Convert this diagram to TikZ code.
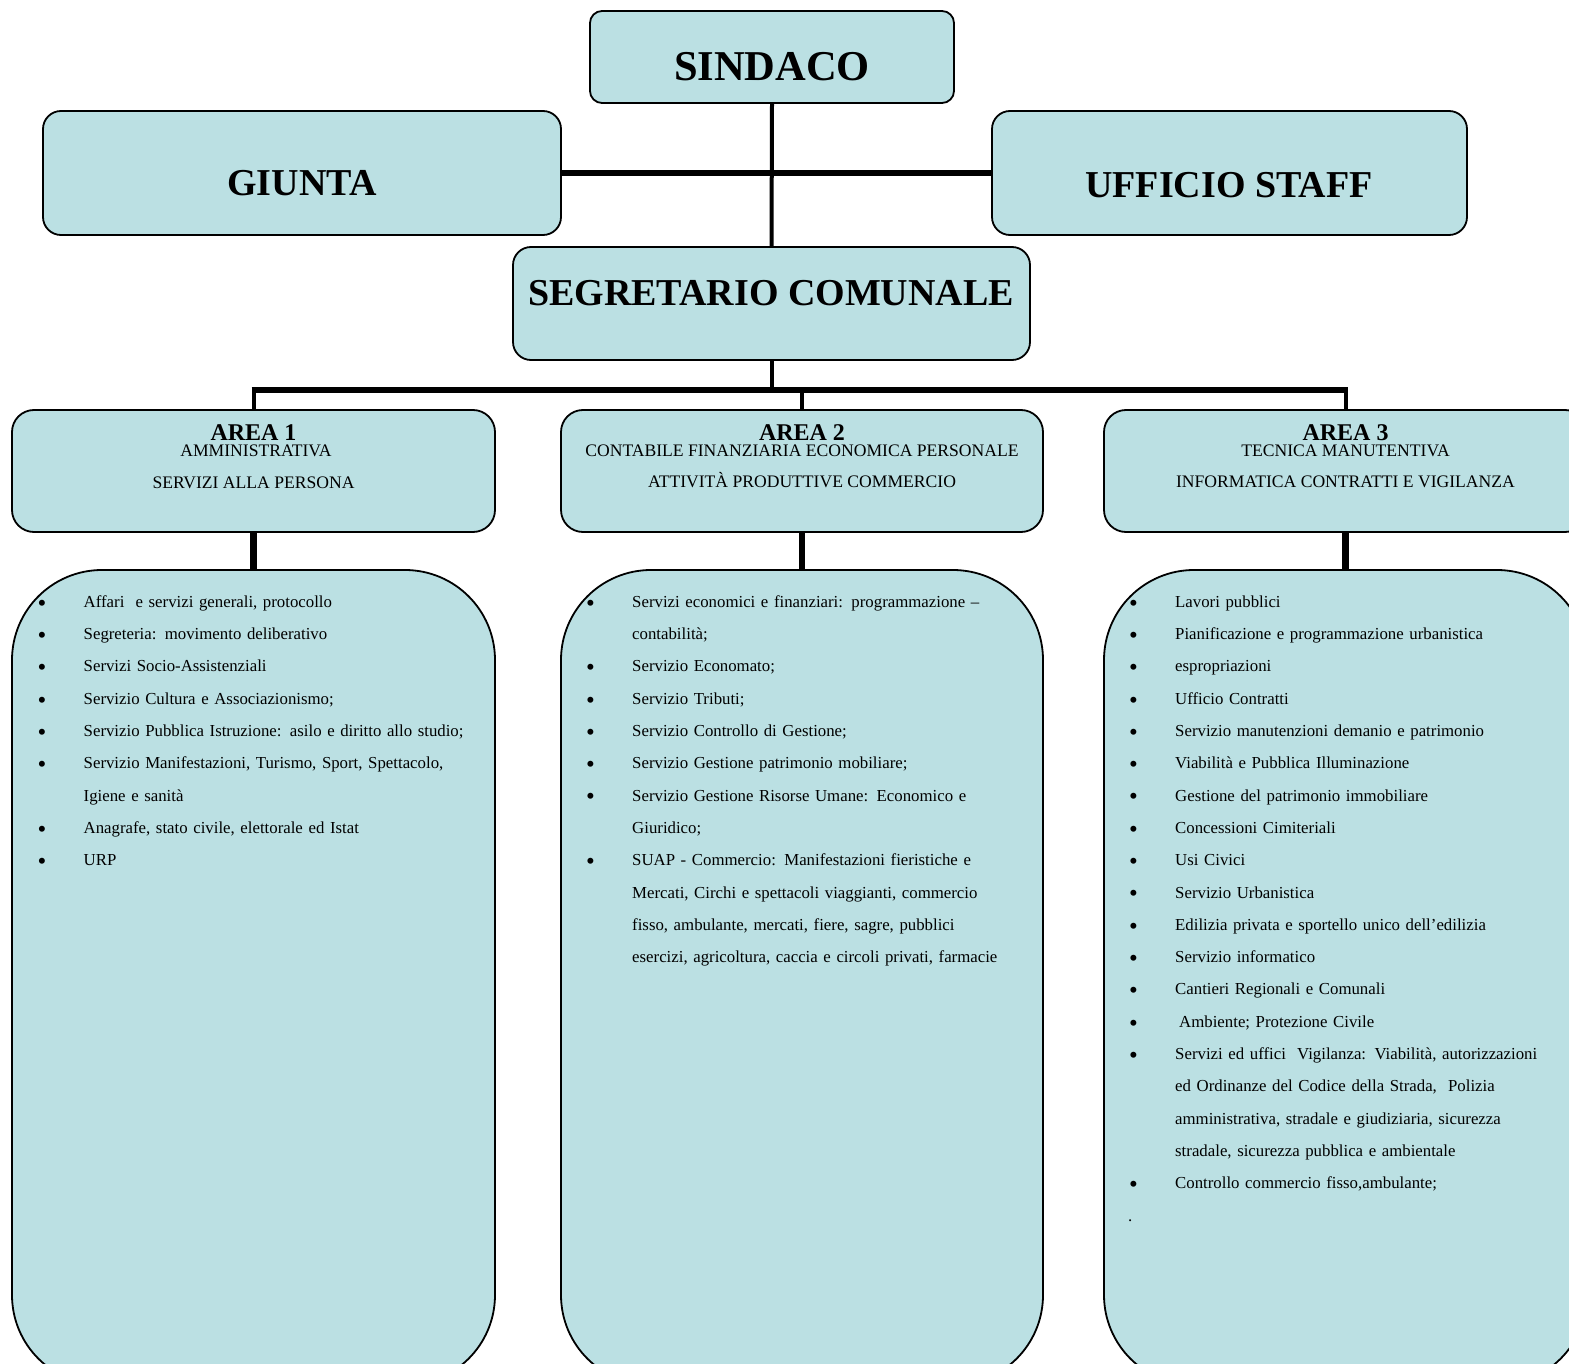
\documentclass[tikz,border=0pt]{standalone}
\usepackage{fontspec}
\setmainfont{Liberation Serif}
\definecolor{boxfill}{RGB}{187,224,227}
\begin{document}
\begin{tikzpicture}[x=1pt,y=-1pt,
  box/.style={draw=black, line width=1.8pt, fill=boxfill, rectangle, inner sep=0pt},
  toptitle/.style={anchor=base, inner sep=0pt, font=\bfseries\fontsize{38}{42}\selectfont},
  areatitle/.style={anchor=base, inner sep=0pt, font=\bfseries\fontsize{24}{26}\selectfont},
  areasub/.style={anchor=base, inner sep=0pt, font=\fontsize{17.6}{20}\selectfont},
  listtext/.style={anchor=north west, inner sep=0pt, text width=520pt, align=left,
     font=\fontsize{16.8}{32.3}\selectfont\setlength{\parindent}{0pt}},
  thinconn/.style={line width=4pt},
  thickconn/.style={line width=6.5pt}]
\clip (0,0) rectangle (1569,1364);
\fill[white] (0,0) rectangle (1569,1364);
\newcommand{\bl}{\makebox[46pt][l]{\raisebox{-3.8pt}{\fontsize{25}{25}\selectfont\textbullet}}}
\newcommand{\cl}{\hspace*{46pt}}
\coordinate (bus) at (0,390);
% boxes
\node[box, rounded corners=12pt, minimum width=364pt, minimum height=92pt] (sindaco) at (772,57) {};
\node[box, rounded corners=18pt, minimum width=518pt, minimum height=124pt] (giunta) at (302,173) {};
\node[box, rounded corners=18pt, minimum width=475pt, minimum height=124pt] (staff) at (1229.5,173) {};
\node[box, rounded corners=18pt, minimum width=517pt, minimum height=113pt] (segr) at (771.5,303.5) {};
\node[box, rounded corners=22pt, minimum width=483pt, minimum height=122pt] (area1) at (253.5,471) {};
\node[box, rounded corners=22pt, minimum width=482pt, minimum height=122pt] (area2) at (802,471) {};
\node[box, rounded corners=22pt, minimum width=483pt, minimum height=122pt] (area3) at (1345.5,471) {};
\node[box, rounded corners=90pt, minimum width=483pt, minimum height=815pt] (list1) at (253.5,977.5) {};
\node[box, rounded corners=90pt, minimum width=482pt, minimum height=815pt] (list2) at (802,977.5) {};
\node[box, rounded corners=90pt, minimum width=483pt, minimum height=815pt] (list3) at (1345.5,977.5) {};
% connectors
\draw[thinconn] (sindaco.south) -- (segr.north);
\draw[thickconn] (giunta.east) -- (staff.west);
\draw[thinconn] (segr.south) -- (segr.south |- bus);
\draw[thickconn] ([xshift=-2pt]area1.north |- bus) -- ([xshift=2pt]area3.north |- bus);
\draw[thinconn] (area1.north |- bus) -- (area1.north);
\draw[thinconn] (area2.north |- bus) -- (area2.north);
\draw[thinconn] (area3.north |- bus) -- (area3.north);
\draw[thickconn] (area1.south) -- (list1.north);
\draw[thickconn] (area2.south) -- (list2.north);
\draw[thickconn] (area3.south) -- (list3.north);
% titles
\node[toptitle, font=\bfseries\fontsize{42.5}{46}\selectfont] (tsindaco) at (772,81) {SINDACO};
\node[toptitle] (tgiunta) at (302,196) {GIUNTA};
\node[toptitle] (tstaff) at (1229,198) {UFFICIO STAFF};
\node[toptitle] (tsegr) at (771,306) {SEGRETARIO COMUNALE};
\node[areatitle] (ta1) at (253.5,440) {AREA 1};
\node[areasub] (sa1a) at (256,456) {AMMINISTRATIVA};
\node[areasub] (sa1b) at (253.5,488) {SERVIZI ALLA PERSONA};
\node[areatitle] (ta2) at (802,440) {AREA 2};
\node[areasub] (sa2a) at (802,456) {CONTABILE FINANZIARIA ECONOMICA PERSONALE};
\node[areasub] (sa2b) at (802,487) {ATTIVITÀ PRODUTTIVE COMMERCIO};
\node[areatitle] (ta3) at (1345.5,440) {AREA 3};
\node[areasub] (sa3a) at (1345.5,456) {TECNICA MANUTENTIVA};
\node[areasub] (sa3b) at (1345.5,487) {INFORMATICA CONTRATTI E VIGILANZA};
% lists
\node[listtext] (l1) at (37.5,584.5) {\strut\bl Affari \ e servizi generali, protocollo\\
\bl Segreteria: movimento deliberativo\\
\bl Servizi Socio-Assistenziali\\
\bl Servizio Cultura e Associazionismo;\\
\bl Servizio Pubblica Istruzione: asilo e diritto allo studio;\\
\bl Servizio Manifestazioni, Turismo, Sport, Spettacolo,\\
\cl Igiene e sanità\\
\bl Anagrafe, stato civile, elettorale ed Istat\\
\bl URP};
\node[listtext] (l2) at (586,584.5) {\strut\bl Servizi economici e finanziari: programmazione –\\
\cl contabilità;\\
\bl Servizio Economato;\\
\bl Servizio Tributi;\\
\bl Servizio Controllo di Gestione;\\
\bl Servizio Gestione patrimonio mobiliare;\\
\bl Servizio Gestione Risorse Umane: Economico e\\
\cl Giuridico;\\
\bl SUAP - Commercio: Manifestazioni fieristiche e\\
\cl Mercati, Circhi e spettacoli viaggianti, commercio\\
\cl fisso, ambulante, mercati, fiere, sagre, pubblici\\
\cl esercizi, agricoltura, caccia e circoli privati, farmacie};
\node[listtext] (l3) at (1129,584.5) {\strut\bl Lavori pubblici\\
\bl Pianificazione e programmazione urbanistica\\
\bl espropriazioni\\
\bl Ufficio Contratti\\
\bl Servizio manutenzioni demanio e patrimonio\\
\bl Viabilità e Pubblica Illuminazione\\
\bl Gestione del patrimonio immobiliare\\
\bl Concessioni Cimiteriali\\
\bl Usi Civici\\
\bl Servizio Urbanistica\\
\bl Edilizia privata e sportello unico dell’edilizia\\
\bl Servizio informatico\\
\bl Cantieri Regionali e Comunali\\
\bl \hspace{4pt}Ambiente; Protezione Civile\\
\bl Servizi ed uffici \ Vigilanza: Viabilità, autorizzazioni\\
\cl ed Ordinanze del Codice della Strada, \ Polizia\\
\cl amministrativa, stradale e giudiziaria, sicurezza\\
\cl stradale, sicurezza pubblica e ambientale\\
\bl Controllo commercio fisso,ambulante;\\
\hspace*{-1pt}.};
\end{tikzpicture}
\end{document}
